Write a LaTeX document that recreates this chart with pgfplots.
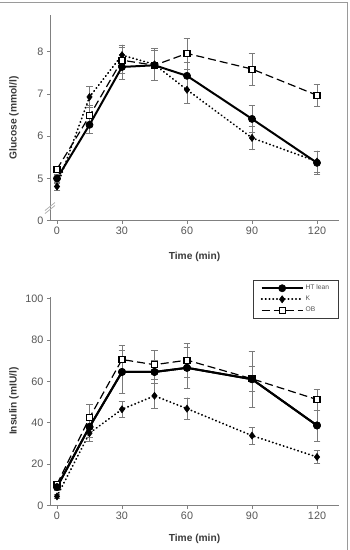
\documentclass[border=0pt]{standalone}
\usepackage{fontspec}
\setmainfont{Liberation Sans}
\usepackage{pgfplots}
\pgfplotsset{compat=1.18}
\usepackage{pgfplotstable}
\usetikzlibrary{calc}

\definecolor{axisgray}{HTML}{808080}
\definecolor{labelgray}{HTML}{555555}
\definecolor{titlegray}{HTML}{3A3A3A}
\definecolor{errgray}{HTML}{7A7A7A}

% Glucose: time, mean, SEM
\pgfplotstableread{
t   y     e
0   5.00  0.10
15  6.27  0.20
30  7.64  0.30
45  7.68  0.35
60  7.43  0.32
90  6.41  0.32
120 5.37  0.27
}\gluHT
\pgfplotstableread{
t   y     e
0   4.81  0.08
15  6.93  0.25
30  7.92  0.24
45  7.70  0.38
60  7.10  0.31
90  5.96  0.28
120 5.40  0.25
}\gluK
\pgfplotstableread{
t   y     e
0   5.22  0.08
15  6.48  0.25
30  7.80  0.30
45  7.68  0.36
60  7.96  0.37
90  7.59  0.38
120 6.97  0.26
}\gluOB

% Insulin: time, mean, SEM
\pgfplotstableread{
t   y     e
0   9.0   1.5
15  38.0  5.0
30  64.5  10.5
45  64.5  5.5
60  66.5  10.0
90  61.0  13.5
120 38.7  7.5
}\insHT
\pgfplotstableread{
t   y     e
0   4.5   1.0
15  35.0  4.0
30  46.5  3.8
45  53.0  6.0
60  46.8  5.2
90  33.8  4.0
120 23.5  3.2
}\insK
\pgfplotstableread{
t   y     e
0   10.3  1.5
15  42.4  6.5
30  70.5  7.0
45  68.0  7.0
60  70.2  8.3
90  61.2  6.0
120 51.2  5.0
}\insOB

\pgfplotsset{
  panel/.style={
    scale only axis,
    width=289pt,
    xmin=-3.23, xmax=130.15,
    axis x line*=bottom, axis y line*=left,
    axis line style={axisgray, line width=0.6pt},
    tick align=outside, major tick length=3pt,
    tick style={axisgray, line width=0.6pt},
    xtick={0,30,60,90,120},
    ticklabel style={labelgray, font=\fontsize{10.8}{12}\selectfont},
    /pgf/number format/assume math mode=true,
    label style={titlegray, font=\bfseries\fontsize{10.2}{12}\selectfont},
    xlabel={Time (min)},
    error bars/y dir=both, error bars/y explicit,
    error bars/error bar style={errgray, line width=0.55pt, solid},
    error bars/error mark options={rotate=90, errgray, mark size=3.4pt, line width=0.55pt, solid},
    clip=false,
  },
  htlean/.style={black, line width=2pt, solid, mark=*, mark size=3.6pt, mark options={solid, fill=black, line width=0.6pt}},
  kgrp/.style={black, line width=1.8pt, line cap=round, dash pattern=on 0.4pt off 3.4pt, mark=diamond*, mark size=3.6pt, mark options={solid, fill=black, line width=0.5pt}},
  obgrp/.style={black, line width=1.2pt, dash pattern=on 8pt off 4pt, mark=square*, mark size=3pt, mark options={solid, fill=white, line width=1.1pt}},
}

\begin{document}
\begin{tikzpicture}[x=1pt,y=1pt]

% Glucose panel (axis broken between 0 and 5)
\begin{axis}[panel,
  at={(50pt,329.3pt)}, anchor=south west,
  height=205.7pt,
  ymin=4, ymax=8.87,
  ytick={4,5,6,7,8}, yticklabels={0,5,6,7,8},
  ylabel={Glucose (mmol/l)},
  ylabel style={at={(axis description cs:-0.1246,0.5)}, anchor=center},
  xlabel style={at={(axis description cs:0.5,-0.175)}, anchor=center},
]
  \addplot+[kgrp] table[x=t, y=y, y error=e] {\gluK};
  \addplot+[obgrp] table[x=t, y=y, y error=e] {\gluOB};
  \addplot+[htlean] table[x=t, y=y, y error=e] {\gluHT};
  % axis break marks
  \draw[axisgray!60, line width=0.8pt] ($(axis cs:-3.23,4.3)+(-5pt,-2.5pt)$) -- ++(10pt,8pt);
  \draw[axisgray!60, line width=0.8pt] ($(axis cs:-3.23,4.3)+(-5pt,-5.5pt)$) -- ++(10pt,8pt);
\end{axis}

% Insulin panel
\begin{axis}[panel,
  at={(50pt,44.3pt)}, anchor=south west,
  height=209pt,
  ymin=0, ymax=100.8,
  ytick={0,20,40,60,80,100},
  ylabel={Insulin (mIU/l)},
  ylabel style={at={(axis description cs:-0.1246,0.5)}, anchor=center},
  xlabel style={at={(axis description cs:0.5,-0.159)}, anchor=center},
  legend style={at={(axis description cs:0.998,1.08)}, anchor=north east,
    draw=titlegray, line width=0.6pt, fill=white,
    font=\fontsize{6.7}{7.5}\selectfont, text=labelgray,
    inner xsep=7pt, inner ysep=2.8pt, row sep=0.8pt,
    legend cell align=left},
  legend image code/.code={
    \draw[mark repeat=2, mark phase=2, #1] plot coordinates {(0pt,0pt) (20.5pt,0pt) (41pt,0pt)};
  },
]
  \addplot+[htlean] table[x=t, y=y, y error=e] {\insHT};
  \addplot+[kgrp] table[x=t, y=y, y error=e] {\insK};
  \addplot+[obgrp] table[x=t, y=y, y error=e] {\insOB};
  \addplot+[htlean, forget plot] table[x=t, y=y, y error=e] {\insHT};
  \legend{HT lean, K, OB}
\end{axis}

% figure frame
\draw[axisgray!80, line width=0.8pt] (0,548) -- (347.3,548) -- (347.3,0);
\pgfresetboundingbox
\path (0,0) rectangle (350,550);
\end{tikzpicture}
\end{document}
